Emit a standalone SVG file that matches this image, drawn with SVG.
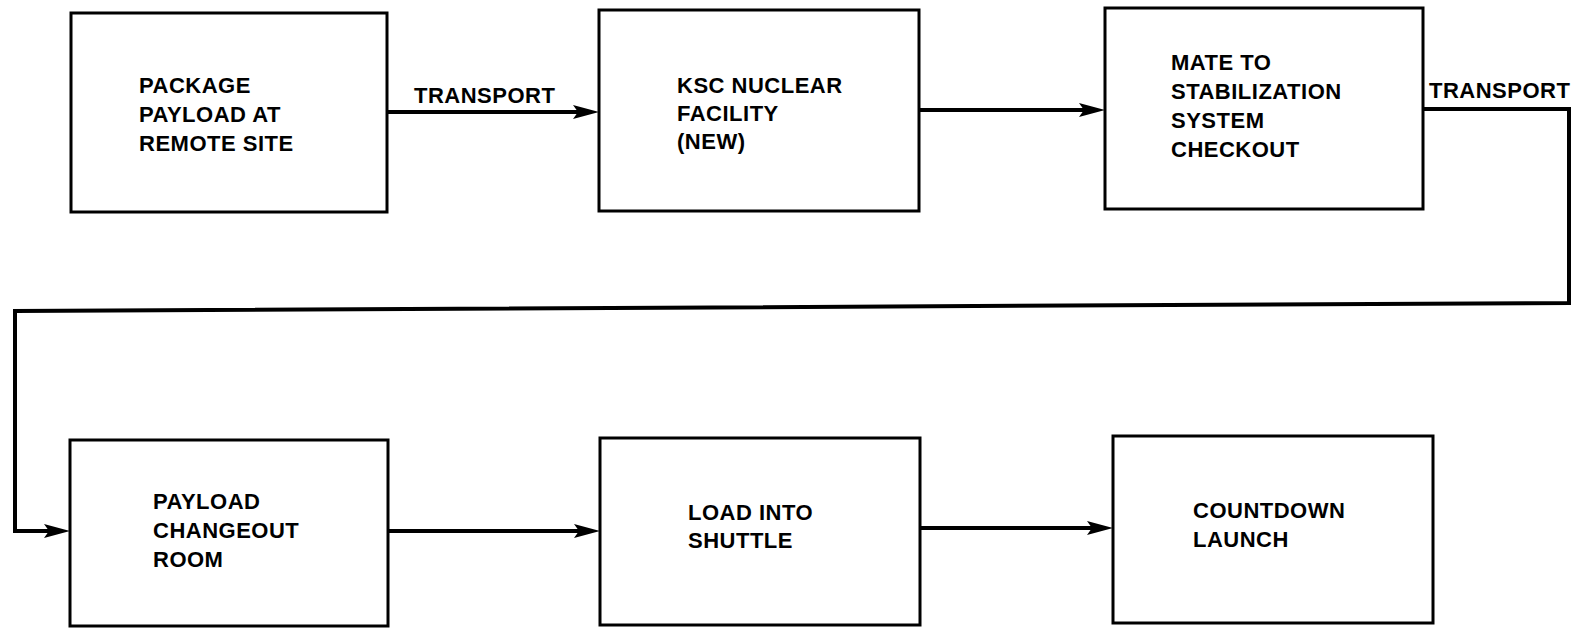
<svg xmlns="http://www.w3.org/2000/svg" width="1576" height="628" viewBox="0 0 1576 628">
<style>
.box{fill:#fff;stroke:#000;stroke-width:3}
.lbl{font-family:"Liberation Sans",Arial,sans-serif;font-weight:bold;font-size:22px;letter-spacing:0.5px;fill:#000}
.con{fill:none;stroke:#000;stroke-width:4;stroke-linejoin:miter}
</style>
<defs>
<marker id="ah" markerUnits="userSpaceOnUse" markerWidth="28" markerHeight="16" refX="16" refY="8" orient="auto" overflow="visible">
<path d="M0,1 L26,8 L0,15 L5,8 z" fill="#000"/>
</marker>
</defs>
<rect width="1576" height="628" fill="#fff"/>
<g id="connectors">
<line class="con" x1="387" y1="112" x2="589" y2="112" marker-end="url(#ah)"/>
<line class="con" x1="919" y1="110" x2="1095" y2="110" marker-end="url(#ah)"/>
<polyline class="con" points="1423,109 1569,109 1569,303 15,311 15,531 60,531" marker-end="url(#ah)"/>
<line class="con" x1="388" y1="531" x2="590" y2="531" marker-end="url(#ah)"/>
<line class="con" x1="920" y1="528" x2="1103" y2="528" marker-end="url(#ah)"/>
<text class="lbl" x="414" y="103">TRANSPORT</text>
<text class="lbl" x="1429" y="98">TRANSPORT</text>
</g>
<g id="node1">
<rect class="box" x="71" y="13" width="316" height="199"/>
<text class="lbl" x="139" y="93">PACKAGE</text>
<text class="lbl" x="139" y="122">PAYLOAD AT</text>
<text class="lbl" x="139" y="151">REMOTE SITE</text>
</g>
<g id="node2">
<rect class="box" x="599" y="10" width="320" height="201"/>
<text class="lbl" x="677" y="93">KSC NUCLEAR</text>
<text class="lbl" x="677" y="121">FACILITY</text>
<text class="lbl" x="677" y="149">(NEW)</text>
</g>
<g id="node3">
<rect class="box" x="1105" y="8" width="318" height="201"/>
<text class="lbl" x="1171" y="70">MATE TO</text>
<text class="lbl" x="1171" y="99">STABILIZATION</text>
<text class="lbl" x="1171" y="128">SYSTEM</text>
<text class="lbl" x="1171" y="157">CHECKOUT</text>
</g>
<g id="node4">
<rect class="box" x="70" y="440" width="318" height="186"/>
<text class="lbl" x="153" y="509">PAYLOAD</text>
<text class="lbl" x="153" y="538">CHANGEOUT</text>
<text class="lbl" x="153" y="567">ROOM</text>
</g>
<g id="node5">
<rect class="box" x="600" y="438" width="320" height="187"/>
<text class="lbl" x="688" y="520">LOAD INTO</text>
<text class="lbl" x="688" y="548">SHUTTLE</text>
</g>
<g id="node6">
<rect class="box" x="1113" y="436" width="320" height="187"/>
<text class="lbl" x="1193" y="518">COUNTDOWN</text>
<text class="lbl" x="1193" y="547">LAUNCH</text>
</g>
</svg>
